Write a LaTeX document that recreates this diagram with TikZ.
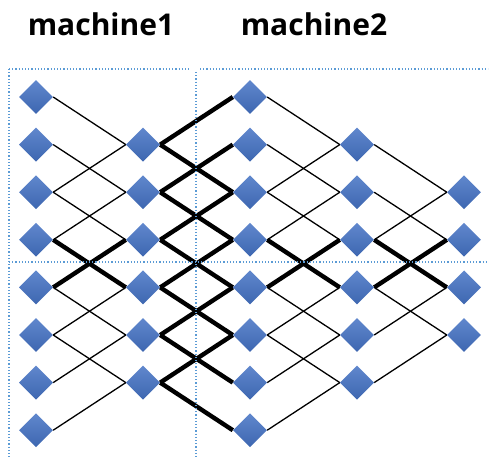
\documentclass[tikz,border=0pt]{standalone}
\usepackage{fontspec}
\setmainfont{Open Sans}
\usetikzlibrary{shapes.geometric}
\usetikzlibrary{backgrounds}
\definecolor{nodeblue}{HTML}{4472C4}
\definecolor{gridblue}{HTML}{5B9BD5}
\tikzset{
        % Processor nodes
        node_proc/.style={diamond, inner sep=0pt, minimum width=34pt, minimum height=34pt,
                top color=nodeblue!85!white, bottom color=nodeblue!90!black, draw=none},
        % Normal links
        link_thin/.style={black, line width=1.3pt},
        % Links between machines
        link_thick/.style={black, line width=4.4pt},
        % Machine borders
        machine_border/.style={gridblue, dotted, line width=1.2pt},
        % Machine titles
        machine_title/.style={anchor=base, font=\bfseries\fontsize{30}{32}\selectfont}
}

\begin{document}
\begin{tikzpicture}[x=1pt, y=-1pt]
            \useasboundingbox (0,0) rectangle (489,459);
            % borders
            \draw[machine_border] (9,69) -- (190,69);
            \draw[machine_border] (200,69) -- (488,69);
            \draw[machine_border] (9,69) -- (9,459);
            \draw[machine_border] (196,72) -- (196,459);
            \draw[machine_border] (9,262) -- (488,262);
            % titles
            \node[machine_title] (title1) at (101,35) {machine1};
            \node[machine_title] (title2) at (314,35) {machine2};
            % processors
            \foreach \col/\first/\last in {0/0/7, 1/1/6, 2/0/7, 3/1/6, 4/2/5}
                \foreach \row in {\first,...,\last}
                    \node[node_proc] (n\col-\row) at (36+107*\col, 97+47.6*\row) {};
            % links
            \begin{scope}[on background layer]
                \foreach \a/\b in {0/1,1/2,2/1,2/3,3/2,4/5,5/4,5/6,6/5,7/6} {
                    \draw[link_thin] (n0-\a.east) -- (n1-\b.west);
                    \draw[link_thin] (n2-\a.east) -- (n3-\b.west);
                }
                \foreach \a/\b in {1/2,2/3,3/2,4/5,5/4,6/5}
                    \draw[link_thin] (n3-\a.east) -- (n4-\b.west);
                \foreach \a/\b in {3/4,4/3} {
                    \draw[link_thick] (n0-\a.east) -- (n1-\b.west);
                    \draw[link_thick] (n2-\a.east) -- (n3-\b.west);
                    \draw[link_thick] (n3-\a.east) -- (n4-\b.west);
                }
                \foreach \a in {1,...,6} {
                    \pgfmathtruncatemacro{\up}{\a-1}
                    \pgfmathtruncatemacro{\down}{\a+1}
                    \draw[link_thick] (n1-\a.east) -- (n2-\up.west);
                    \draw[link_thick] (n1-\a.east) -- (n2-\down.west);
                }
            \end{scope}
        \end{tikzpicture}
\end{document}
